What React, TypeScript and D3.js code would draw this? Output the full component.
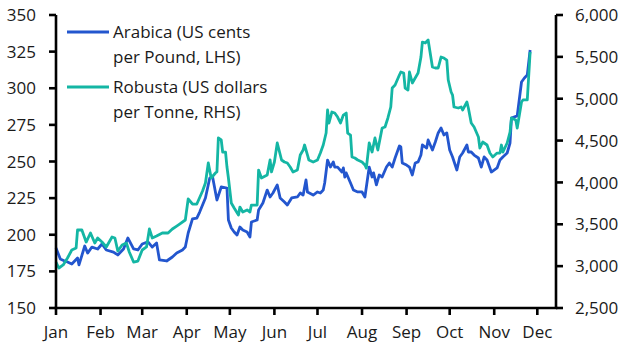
import React from "react";
import * as d3 from "d3";

const arabicaDates = [
  "2024-01-01","2024-01-04","2024-01-07","2024-01-09","2024-01-12","2024-01-16","2024-01-17","2024-01-21","2024-01-23","2024-01-26","2024-01-30",
  "2024-02-02","2024-02-05","2024-02-10","2024-02-13","2024-02-17","2024-02-20","2024-02-24","2024-02-27",
  "2024-03-01","2024-03-05","2024-03-08","2024-03-11","2024-03-13","2024-03-18","2024-03-22","2024-03-25","2024-03-29","2024-03-31",
  "2024-04-02","2024-04-05","2024-04-08","2024-04-10","2024-04-14","2024-04-17","2024-04-19","2024-04-22","2024-04-25","2024-04-29","2024-04-30",
  "2024-05-02","2024-05-04","2024-05-06","2024-05-08","2024-05-10","2024-05-13","2024-05-15","2024-05-16","2024-05-20","2024-05-21","2024-05-24","2024-05-27","2024-05-29","2024-05-31",
  "2024-06-03","2024-06-05","2024-06-08","2024-06-10","2024-06-13","2024-06-17","2024-06-19","2024-06-21","2024-06-23","2024-06-24","2024-06-28",
  "2024-07-01","2024-07-03","2024-07-05","2024-07-06","2024-07-08","2024-07-10","2024-07-12","2024-07-13","2024-07-15","2024-07-18","2024-07-19","2024-07-20","2024-07-21","2024-07-24","2024-07-26","2024-07-29",
  "2024-08-01","2024-08-03","2024-08-06","2024-08-08","2024-08-09","2024-08-11","2024-08-13","2024-08-15","2024-08-18","2024-08-20","2024-08-22","2024-08-24","2024-08-27","2024-08-28","2024-08-29",
  "2024-09-01","2024-09-03","2024-09-05","2024-09-07","2024-09-09","2024-09-11","2024-09-12","2024-09-15","2024-09-16","2024-09-19","2024-09-21","2024-09-23","2024-09-25","2024-09-27","2024-09-29",
  "2024-10-01","2024-10-03","2024-10-06","2024-10-08","2024-10-10","2024-10-13","2024-10-14","2024-10-16","2024-10-18","2024-10-21","2024-10-23","2024-10-25","2024-10-27","2024-10-30",
  "2024-11-03","2024-11-05","2024-11-07","2024-11-10","2024-11-12","2024-11-13","2024-11-17","2024-11-20","2024-11-22","2024-11-24","2024-11-26",
];
const arabicaValues = [
  191.0,183.4,182.1,181.4,180.0,184.1,179.4,192.3,187.5,191.6,190.3,
  193.7,189.6,188.2,186.2,190.3,197.8,190.3,189.6,
  193.7,195.1,191.6,194.4,182.8,182.1,184.8,187.5,189.6,191.6,
  201.2,210.8,211.4,215.5,225.1,238.7,239.4,223.7,232.6,231.9,210.1,
  204.6,201.9,199.8,205.3,203.2,201.9,198.5,208.7,210.1,216.9,221.7,230.5,225.8,228.5,
  234.0,225.1,222.4,220.3,225.1,225.8,228.5,227.1,237.4,229.2,227.1,
  229.2,228.5,230.5,235.3,251.0,246.2,249.7,246.2,246.2,242.8,245.6,239.4,242.2,235.3,230.5,229.2,
  229.2,225.8,246.2,239.4,242.2,234.0,240.8,239.4,246.2,249.0,246.2,252.4,260.6,259.9,249.0,
  247.6,246.2,240.8,249.0,249.7,254.4,261.3,259.2,264.7,257.8,263.3,269.5,272.9,268.1,269.5,
  257.8,253.1,244.2,253.1,255.8,261.3,256.5,256.5,254.4,252.4,246.2,253.1,251.0,242.8,
  245.6,251.0,253.1,255.8,262.6,279.7,281.1,304.3,307.0,309.0,326.1,
];

const robustaDates = [
  "2024-01-01","2024-01-03","2024-01-06","2024-01-09","2024-01-12","2024-01-15","2024-01-16","2024-01-19","2024-01-22","2024-01-25","2024-01-28","2024-01-30",
  "2024-02-02","2024-02-05","2024-02-09","2024-02-11","2024-02-13","2024-02-16","2024-02-19","2024-02-21","2024-02-24","2024-02-27",
  "2024-03-01","2024-03-04","2024-03-06","2024-03-08","2024-03-11","2024-03-15","2024-03-19","2024-03-22","2024-03-25","2024-03-27","2024-03-31",
  "2024-04-02","2024-04-05","2024-04-08","2024-04-12","2024-04-14","2024-04-16","2024-04-18","2024-04-21","2024-04-22","2024-04-23","2024-04-25","2024-04-26","2024-04-28","2024-04-29","2024-04-30",
  "2024-05-02","2024-05-04","2024-05-07","2024-05-08","2024-05-10","2024-05-13","2024-05-15","2024-05-16","2024-05-18","2024-05-20","2024-05-21","2024-05-23","2024-05-27","2024-05-29","2024-05-30",
  "2024-06-01","2024-06-03","2024-06-06","2024-06-08","2024-06-10","2024-06-12","2024-06-14","2024-06-17","2024-06-19","2024-06-21","2024-06-22","2024-06-24","2024-06-25","2024-06-28",
  "2024-07-01","2024-07-03","2024-07-05","2024-07-07","2024-07-08","2024-07-09","2024-07-11","2024-07-13","2024-07-15","2024-07-17","2024-07-19","2024-07-21","2024-07-22","2024-07-24","2024-07-25","2024-07-27","2024-07-29",
  "2024-08-01","2024-08-03","2024-08-04","2024-08-06","2024-08-08","2024-08-10","2024-08-12","2024-08-15","2024-08-17","2024-08-19","2024-08-21","2024-08-22","2024-08-24","2024-08-27","2024-08-28","2024-08-30","2024-08-31",
  "2024-09-02","2024-09-03","2024-09-05","2024-09-07","2024-09-09","2024-09-11","2024-09-12","2024-09-14","2024-09-16","2024-09-19","2024-09-21","2024-09-23","2024-09-25","2024-09-27","2024-09-29","2024-09-30",
  "2024-10-02","2024-10-03","2024-10-04","2024-10-07","2024-10-09","2024-10-10","2024-10-13","2024-10-14","2024-10-16","2024-10-18","2024-10-21","2024-10-22","2024-10-24","2024-10-27","2024-10-29","2024-10-31",
  "2024-11-03","2024-11-05","2024-11-06","2024-11-07","2024-11-10","2024-11-12","2024-11-13","2024-11-16","2024-11-17","2024-11-20","2024-11-21","2024-11-24","2024-11-26",
];
const robustaValues = [
  3049,2978,3014,3097,3193,3217,3432,3432,3288,3396,3276,3336,
  3288,3229,3348,3336,3181,3253,3276,3169,3049,3061,
  3193,3229,3444,3336,3360,3396,3396,3444,3479,3503,3551,
  3802,3742,3742,3898,3993,4232,4053,4113,4125,4531,4507,4363,4363,4184,4053,
  3754,3695,3611,3706,3647,3671,3647,3730,3730,3730,4148,4053,4089,4268,4125,
  4244,4471,4268,4244,4232,4184,4125,4148,4328,4387,4447,4328,4268,4244,
  4268,4351,4447,4590,4865,4710,4841,4829,4781,4710,4805,4829,4590,4566,4304,4292,4268,
  4244,4208,4172,4471,4363,4531,4387,4650,4662,4770,4901,5128,5164,5283,5319,5307,5128,
  5104,5319,5188,5247,5307,5498,5677,5665,5701,5379,5367,5367,5498,5486,5462,5223,
  5080,5044,4901,4889,4901,4865,4961,4889,4710,4662,4543,4411,4483,4447,4351,4304,
  4351,4351,4447,4363,4471,4602,4770,4746,4650,4961,4985,4985,5558,
];

const monthLabels = ["Jan","Feb","Mar","Apr","May","Jun","Jul","Aug","Sep","Oct","Nov","Dec"];
const leftTicks = [150,175,200,225,250,275,300,325,350];
const rightTicks = [2500,3000,3500,4000,4500,5000,5500,6000];
const legendLabels = [
  ["Arabica (US cents", "per Pound, LHS)"],
  ["Robusta (US dollars", "per Tonne, RHS)"],
];

const BLUE = "#2356CE";
const TEAL = "#14B6A4";
const TEXT = "#1a1a1a";
const FONT = "'Open Sans', sans-serif";

export default function App() {
  const W = 630, H = 355;
  const left = 56, right = 556, top = 15, bottom = 308;
  const parse = d3.timeParse("%Y-%m-%d");
  const x = d3.scaleTime().domain([new Date(2024, 0, 1), new Date(2024, 11, 14)]).range([left, right]);
  const yL = d3.scaleLinear().domain([150, 350]).range([bottom, top]);
  const yR = d3.scaleLinear().domain([2500, 6000]).range([bottom, top]);

  const arabica = arabicaDates.map((d, i) => ({ d: parse(d) as Date, v: arabicaValues[i] }));
  const robusta = robustaDates.map((d, i) => ({ d: parse(d) as Date, v: robustaValues[i] }));

  const lineA = d3.line<{ d: Date; v: number }>().x(p => x(p.d)).y(p => yL(p.v));
  const lineR = d3.line<{ d: Date; v: number }>().x(p => x(p.d)).y(p => yR(p.v));

  const months = d3.timeMonth.range(new Date(2024, 0, 1), new Date(2024, 11, 2));
  const fmt = d3.format(",");
  const axisW = 2.6;

  return (
    <svg width={W} height={H} style={{ position: "absolute", left: 0, top: 0, background: "#fff" }} fontFamily={FONT}>
      <path d={lineA(arabica) || ""} fill="none" stroke={BLUE} strokeWidth={2.8} strokeLinejoin="round" />
      <path d={lineR(robusta) || ""} fill="none" stroke={TEAL} strokeWidth={2.8} strokeLinejoin="round" />

      {/* axes */}
      <line x1={left} x2={left} y1={top} y2={bottom} stroke="#000" strokeWidth={axisW} />
      <line x1={right} x2={right} y1={top} y2={bottom} stroke="#000" strokeWidth={axisW} />
      <line x1={left - axisW / 2} x2={right + axisW / 2} y1={bottom} y2={bottom} stroke="#000" strokeWidth={axisW} />

      {leftTicks.map(t => (
        <g key={"l" + t}>
          <line x1={left - 7} x2={left} y1={yL(t)} y2={yL(t)} stroke="#000" strokeWidth={axisW} />
          <text x={36} y={yL(t)} dy="0.36em" textAnchor="end" fontSize={17} fill={TEXT}>{t}</text>
        </g>
      ))}
      {rightTicks.map(t => (
        <g key={"r" + t}>
          <line x1={right} x2={right + 7} y1={yR(t)} y2={yR(t)} stroke="#000" strokeWidth={axisW} />
          <text x={575} y={yR(t)} dy="0.36em" textAnchor="start" fontSize={17} fill={TEXT}>{fmt(t)}</text>
        </g>
      ))}
      {months.map((m, i) => (
        <g key={"m" + i}>
          <line x1={x(m)} x2={x(m)} y1={bottom} y2={bottom + 7} stroke="#000" strokeWidth={axisW} />
          <text x={x(m)} y={338} textAnchor="middle" fontSize={17} fill={TEXT}>{monthLabels[i]}</text>
        </g>
      ))}

      {/* legend */}
      {legendLabels.map((lines, i) => {
        const ly = 32 + i * 55;
        return (
          <g key={"lg" + i}>
            <line x1={67} x2={109} y1={ly} y2={ly} stroke={i === 0 ? BLUE : TEAL} strokeWidth={3} />
            <text x={113} y={ly + 5.5} fontSize={17} fill={TEXT}>{lines[0]}</text>
            <text x={113} y={ly + 30.5} fontSize={17} fill={TEXT}>{lines[1]}</text>
          </g>
        );
      })}
    </svg>
  );
}
